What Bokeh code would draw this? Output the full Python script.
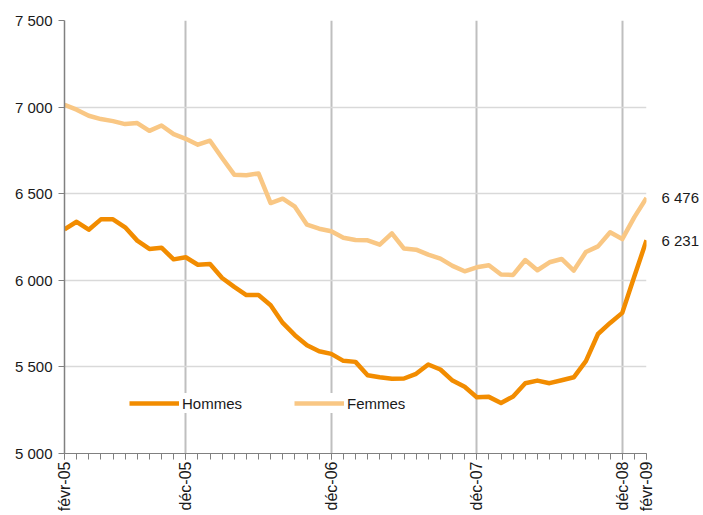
import math
from bokeh.plotting import figure
from bokeh.models import Range1d, FixedTicker, Legend, LegendItem, LinearAxis
from bokeh.embed import file_html
from bokeh.resources import INLINE

# --- data (monthly, févr-05 .. févr-09) ---
months = list(range(49))
hommes = [6294, 6338, 6292, 6352, 6352, 6306, 6229, 6181, 6188, 6121, 6133, 6090,
          6094, 6013, 5962, 5915, 5915, 5856, 5754, 5683, 5625, 5590, 5575, 5535,
          5529, 5452, 5440, 5431, 5433, 5460, 5514, 5485, 5421, 5385, 5325, 5327,
          5292, 5329, 5406, 5421, 5406, 5423, 5440, 5533, 5690, 5754, 5812, 6023, 6231]
femmes = [7013, 6985, 6950, 6931, 6919, 6902, 6908, 6863, 6894, 6844, 6817, 6783,
          6806, 6706, 6610, 6606, 6617, 6446, 6471, 6425, 6321, 6298, 6283, 6246,
          6233, 6231, 6206, 6271, 6183, 6177, 6148, 6125, 6083, 6052, 6075, 6087,
          6033, 6031, 6117, 6058, 6104, 6123, 6056, 6163, 6196, 6277, 6238, 6365, 6476]
tick_positions = [0, 10, 22, 34, 46, 48]
tick_labels = ["févr-05", "déc-05", "déc-06", "déc-07", "déc-08", "févr-09"]
grid_positions = [10, 22, 34, 46]
y_ticks = [5000, 5500, 6000, 6500, 7000, 7500]

FONT = "Liberation Sans"
FS = "15px"
TXT = "#1a1a1a"
C_H = "#F28C00"
C_F = "#F9C784"

def fmt(v):
    return f"{v:,}".replace(",", " ")

p = figure(width=703, height=515, output_backend="svg", toolbar_location=None,
           x_range=Range1d(0, 48), y_range=Range1d(5000, 7500),
           min_border_left=64, min_border_right=57, min_border_top=20,
           min_border_bottom=62)
p.outline_line_color = None

lf = p.line(months, femmes, line_color=C_F, line_width=4.5, line_join="round")
lh = p.line(months, hommes, line_color=C_H, line_width=4.5, line_join="round")

# x axis
xa = p.xaxis[0]
xa.ticker = FixedTicker(ticks=tick_positions, minor_ticks=months)
xa.major_label_overrides = {t: l for t, l in zip(tick_positions, tick_labels)}
xa.major_label_orientation = math.pi / 2
xa.major_tick_out = 6
xa.major_tick_in = 0
xa.minor_tick_out = 6
xa.minor_tick_in = 0
xa.major_label_standoff = 2
xa.axis_line_color = "#808080"
xa.major_tick_line_color = "#808080"
xa.minor_tick_line_color = "#808080"
xa.major_label_text_font = FONT
xa.major_label_text_font_size = "16px"
xa.major_label_text_color = TXT

# y axis
ya = p.yaxis[0]
ya.ticker = FixedTicker(ticks=y_ticks)
ya.major_label_overrides = {t: fmt(t) for t in y_ticks}
ya.major_tick_out = 6
ya.major_tick_in = 0
ya.minor_tick_line_color = None
ya.major_label_standoff = 6
ya.axis_line_color = "#808080"
ya.axis_line_width = 1.5
ya.major_tick_line_color = "#808080"
ya.major_label_text_font = FONT
ya.major_label_text_font_size = FS
ya.major_label_text_color = TXT

# end-value labels as a bare right axis
end_vals = [hommes[-1], femmes[-1]]
ra = LinearAxis(ticker=FixedTicker(ticks=end_vals),
                major_label_overrides={v: fmt(v) for v in end_vals},
                axis_line_color=None, major_tick_line_color=None,
                minor_tick_line_color=None, major_tick_out=0, major_tick_in=0,
                major_label_standoff=15, major_label_text_font=FONT,
                major_label_text_font_size=FS, major_label_text_color=TXT)
p.add_layout(ra, "right")

# grids
p.xgrid.ticker = FixedTicker(ticks=grid_positions)
p.xgrid.grid_line_color = "#bfbfbf"
p.xgrid.grid_line_width = 2
p.ygrid.ticker = FixedTicker(ticks=y_ticks[1:-1])
p.ygrid.grid_line_color = "#d9d9d9"
p.ygrid.grid_line_width = 1.5

legend = Legend(items=[LegendItem(label="Hommes", renderers=[lh]),
                       LegendItem(label="Femmes", renderers=[lf])],
                orientation="horizontal", location=(65, 40),
                glyph_width=50, glyph_height=20, label_standoff=3, spacing=52,
                padding=10, margin=0,
                background_fill_color="white", background_fill_alpha=1,
                border_line_color=None,
                label_text_font=FONT, label_text_font_size=FS, label_text_color=TXT)
p.add_layout(legend)

open("out.html", "w").write(file_html(p, INLINE))
